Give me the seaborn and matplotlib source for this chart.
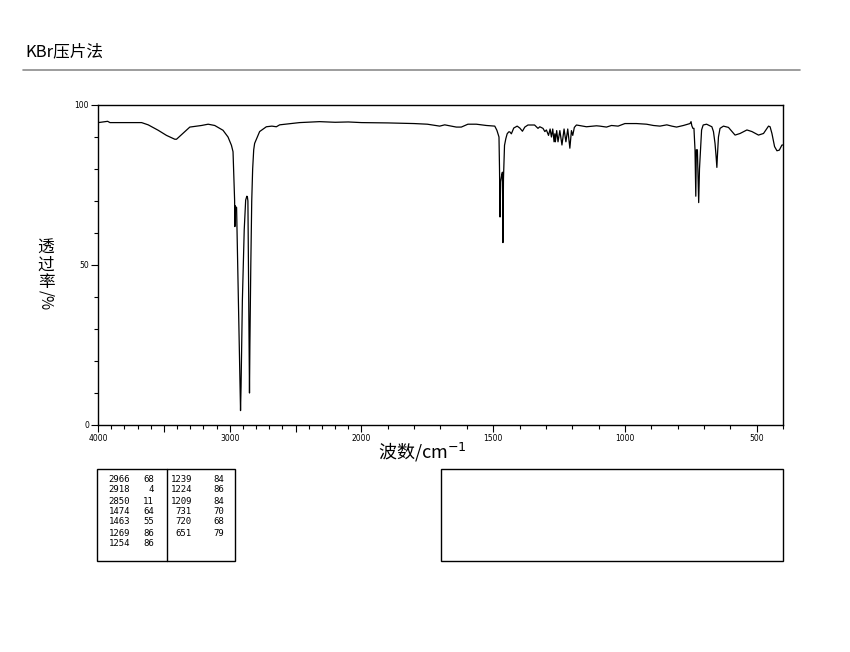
import numpy as np
import pandas as pd
import seaborn as sns
import matplotlib.pyplot as plt
from matplotlib.lines import Line2D
from matplotlib.patches import Rectangle

# spectrum (wavenumber cm-1, transmittance %)
wavenumber = [4000, 3998, 3927, 3909, 3669, 3619, 3543, 3480, 3417, 3404, 3303, 3214, 3164, 3114, 3051, 3013, 2987,
              2975, 2968, 2963, 2961, 2959, 2956, 2948, 2921, 2918, 2914, 2904, 2890, 2879, 2870, 2866, 2862, 2856,
              2852, 2850, 2847, 2840, 2833, 2826, 2818, 2811, 2773, 2722, 2680, 2646, 2621, 2470, 2318,
              2200, 2100, 2000, 1900, 1800, 1750, 1703, 1684, 1659, 1640, 1621, 1596, 1564, 1526, 1494,
              1486, 1478, 1476, 1474, 1472, 1468, 1465, 1463, 1461, 1457, 1452, 1447, 1441, 1437, 1431, 1422,
              1409, 1399, 1389, 1380, 1371,
              1368, 1343, 1330, 1323, 1311, 1304, 1298, 1290, 1284, 1279, 1274, 1269, 1266, 1264, 1259, 1254,
              1247, 1239, 1231, 1224, 1217, 1209, 1203, 1198, 1192, 1184, 1146, 1108,
              1095, 1070, 1051, 1026, 1000, 956, 918, 892, 867, 841, 822, 804, 778, 753, 749, 746, 742, 738,
              734, 731, 729, 725, 720, 717, 713, 709, 703, 690,
              670, 664, 658, 654, 651, 649, 645, 639, 626, 607, 582, 563, 537, 518, 493, 474, 455, 449, 442,
              432, 423, 414, 404, 400]
transmittance = [94.4, 94.5, 94.9, 94.5, 94.5, 93.8, 92.1, 90.5, 89.3, 89.3, 93.1, 93.6, 94.0, 93.6, 92.1, 90.0, 87.4,
                 85.4, 76.6, 70.3, 62.0, 68.5, 68.2, 68.0, 12.0, 4.5, 12.0, 39.0, 61.0, 70.3, 71.5, 71.3, 70.0, 40.0,
                 22.0, 10.0, 25.0, 50.0, 70.0, 80.0, 86.0, 88.0, 91.7, 93.2, 93.4, 93.2, 93.8, 94.5, 94.8,
                 94.6, 94.7, 94.5, 94.4, 94.2, 94.0, 93.4, 93.8, 93.4, 93.1, 93.1, 94.0, 94.0, 93.6, 93.4,
                 92.1, 90.0, 80.0, 65.0, 76.0, 78.0, 79.0, 57.0, 77.0, 87.4, 89.5, 91.0, 91.6, 91.6, 91.0, 92.8,
                 93.4, 92.8, 91.8, 93.1, 93.6,
                 93.75, 93.75, 92.7, 93.2, 92.7, 91.7, 92.2, 90.5, 92.5, 90.0, 92.5, 88.5, 91.0, 88.5, 92.0, 88.5,
                 92.0, 87.5, 92.5, 88.5, 92.5, 86.5, 92.0, 90.5, 93.0, 93.75, 93.2, 93.5,
                 93.4, 93.1, 93.6, 93.4, 94.2, 94.2, 94.0, 93.6, 93.4, 93.8, 93.4, 93.1, 93.6, 94.2, 94.8, 93.5, 92.7, 92.7,
                 86.0, 71.5, 86.0, 86.0, 69.5, 80.0, 86.0, 92.2, 93.75, 94.0,
                 93.2, 91.7, 88.0, 84.0, 80.5, 84.0, 90.0, 92.7, 93.4, 93.0, 90.6, 91.1, 92.2, 91.7, 90.6, 91.1, 93.4, 93.2, 91.1,
                 87.0, 85.7, 85.9, 87.5, 87.5]

# peak table
peak_wn_left = [2966, 2918, 2850, 1474, 1463, 1269, 1254]
peak_t_left = [68, 4, 11, 64, 55, 86, 86]
peak_wn_right = [1239, 1224, 1209, 731, 720, 651]
peak_t_right = [84, 86, 84, 70, 68, 79]

x_major = [4000, 3500, 3000, 2500, 2000, 1500, 1000, 500]
x_labels = ['4000', '', '3000', '', '2000', '1500', '1000', '500']

df = pd.DataFrame({'wn': wavenumber, 't': transmittance})

sns.set_style('ticks')
plt.rcParams['font.family'] = ['Noto Sans CJK SC', 'DejaVu Sans']
plt.rcParams['text.color'] = 'black'

W, H = 850, 652
def fx(x):
    return x / W
def fy(y):
    return 1 - y / H

fig = plt.figure(figsize=(8.5, 6.52), dpi=100)
ax = fig.add_axes([fx(98), fy(425), fx(783) - fx(98), fy(105) - fy(425)])

# 4000-2000 at half the scale of 2000-400
def fwd(w):
    w = np.asarray(w, dtype=float)
    return np.where(w > 2000, 2000 + (w - 2000) / 2, w)
def inv(v):
    v = np.asarray(v, dtype=float)
    return np.where(v > 2000, 2000 + (v - 2000) * 2, v)

ax.set_xscale('function', functions=(fwd, inv))
sns.lineplot(data=df, x='wn', y='t', sort=False, estimator=None, color='black', lw=0.9, ax=ax)
ax.set_xlim(4000, 400)
ax.set_ylim(0, 100)

ax.set_xticks(x_major, x_labels)
ax.set_xticks([w for w in range(400, 4000, 100) if w not in x_major], minor=True)
ax.set_yticks([0, 50, 100], ['0', '50', '100'])
ax.set_yticks([v for v in range(10, 100, 10) if v != 50], minor=True)
ax.tick_params(which='major', direction='out', length=5, width=0.8, labelsize=5.5, pad=1.5,
               colors='black', labelcolor='black')
ax.tick_params(which='minor', direction='out', length=3, width=0.8, colors='black')
for tl in ax.get_xticklabels() + ax.get_yticklabels():
    tl.set_family('DejaVu Sans')
for s in ax.spines.values():
    s.set_linewidth(1)
    s.set_color('black')
ax.set_xlabel('')
ax.set_ylabel('')

# titles and labels
fig.text(fx(25), fy(52), 'KBr压片法', fontsize=12, va='center', ha='left', color='black')
fig.add_artist(Line2D([fx(23), fx(800)], [fy(70), fy(70)], transform=fig.transFigure, color='#8c8c8c', lw=1.2))
fig.text(fx(422), fy(452), '波数/cm$^{-1}$', fontsize=13, ha='center', va='center', color='black')
fig.text(fx(46), fy(265), '透\n过\n率', fontsize=12, ha='center', va='center', linespacing=1.0, color='black')
fig.text(fx(46), fy(300), '/%', fontsize=11, ha='center', va='center', rotation=270, color='black')

# peak table
fig.add_artist(Rectangle((fx(97), fy(561)), fx(235) - fx(97), fy(469) - fy(561), fill=False,
                         lw=1, ec='black', transform=fig.transFigure))
fig.add_artist(Line2D([fx(167), fx(167)], [fy(469), fy(561)], transform=fig.transFigure, color='black', lw=1))
fig.add_artist(Rectangle((fx(441), fy(561)), fx(783) - fx(441), fy(469) - fy(561), fill=False,
                         lw=1, ec='black', transform=fig.transFigure))
row_y = [479, 490, 501, 512, 522, 533, 544]
for i, (w, t) in enumerate(zip(peak_wn_left, peak_t_left)):
    fig.text(fx(130), fy(row_y[i]), str(w), fontsize=6.5, ha='right', va='center', family='DejaVu Sans Mono')
    fig.text(fx(154), fy(row_y[i]), str(t), fontsize=6.5, ha='right', va='center', family='DejaVu Sans Mono')
for i, (w, t) in enumerate(zip(peak_wn_right, peak_t_right)):
    fig.text(fx(192), fy(row_y[i]), str(w), fontsize=6.5, ha='right', va='center', family='DejaVu Sans Mono')
    fig.text(fx(224), fy(row_y[i]), str(t), fontsize=6.5, ha='right', va='center', family='DejaVu Sans Mono')

fig.savefig('out.png', dpi=100)
